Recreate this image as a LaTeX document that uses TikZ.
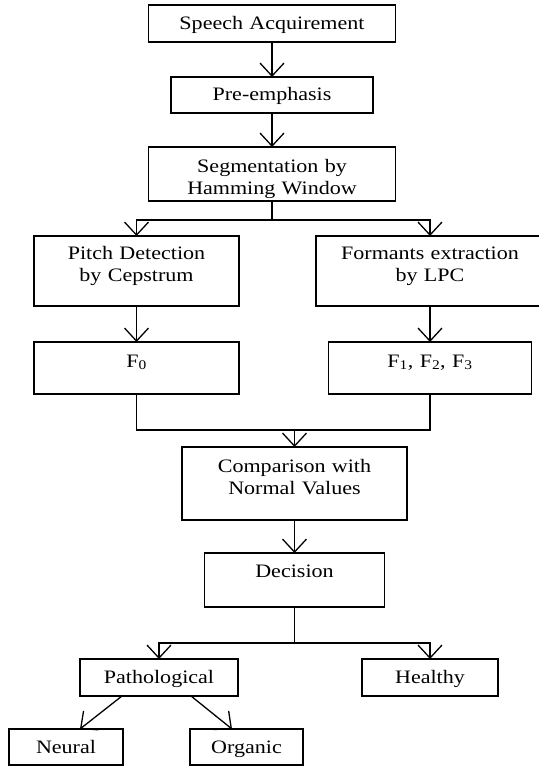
\documentclass[tikz,border=0pt]{standalone}
\usepackage{fontspec}
\setmainfont{Liberation Serif}[FakeStretch=1.16]
\usepackage{tikz}
\usetikzlibrary{arrows.meta,positioning}

\begin{document}
\begin{tikzpicture}[x=1pt,y=1pt,line width=1.3pt,
  >={Straight Barb[length=13pt,width=24pt]},
  dims/.style n args={3}{text width=#1pt,text height=#2pt,text depth=#3pt}]
  \tikzstyle{block}=[draw,inner sep=0pt,outer sep=0pt,align=center,font=\fontsize{19}{22}\selectfont]
  \useasboundingbox (0,0) rectangle (538,-767);
  \node[block,dims={247}{25}{12},anchor=north] (speech) at (272,-5) {Speech Acquirement};
  \node[block,dims={202}{24}{12}] (pre) [below=35pt of speech] {Pre-emphasis};
  \node[block,dims={247}{26}{28}] (seg) [below=34pt of pre] {Segmentation by\\Hamming Window};
  \node[block,dims={205}{23}{47}] (pitch) [below=35pt of seg,xshift=-135.5pt] {Pitch Detection\\by Cepstrum};
  \node[block,dims={228}{23}{47}] (formant) [below=35pt of seg,xshift=158pt] {Formants extraction\\by LPC};
  \node[block,dims={205}{25}{27}] (f_0) [below=36pt of pitch] {F\textsubscript{0}};
  \node[block,dims={203}{25}{27}] (f_123) [below=36pt of formant] {F\textsubscript{1}, F\textsubscript{2}, F\textsubscript{3}};
  \node[block,dims={225}{25}{48}] (comp) [below=53pt of f_0,xshift=158pt] {Comparison with\\Normal Values};
  \node[block,dims={180}{24}{30}] (dec) [below=33pt of comp] {Decision};
  \node[block,dims={158}{24}{13}] (patho) [below=52pt of dec,xshift=-135.5pt] {Pathological};
  \node[block,dims={136}{24}{13}] (healthy) [below=52pt of dec,xshift=135.5pt] {Healthy};
  \node[block,dims={114}{24}{12}] (neural) [below=33pt of patho,xshift=-93pt] {Neural};
  \node[block,dims={113}{24}{12}] (organic) [below=33pt of patho,xshift=87.5pt] {Organic};
  \path[->] (speech) edge (pre)
            (pre) edge (seg)
            (pitch) edge (f_0)
            (formant) edge (f_123)
            (comp) edge (dec);
  \draw[->] (seg.south) -- ++(0,-19) -| (pitch.north);
  \draw[->] (seg.south) -- ++(0,-19) -| (formant.north);
  \coordinate (mrg) at ([yshift=17pt]comp.north);
  \draw (f_0.south) |- (mrg) -| (f_123.south);
  \draw[->] (mrg) -- (comp);
  \draw[->] (dec.south) -- ++(0,-36) -| (patho.north);
  \draw[->] (dec.south) -- ++(0,-36) -| (healthy.north);
  \draw[->] ([xshift=42pt]patho.south west) -- ([xshift=71pt]neural.north west);
  \draw[->] ([xshift=111pt]patho.south west) -- ([xshift=42pt]organic.north west);
\end{tikzpicture}
\end{document}
